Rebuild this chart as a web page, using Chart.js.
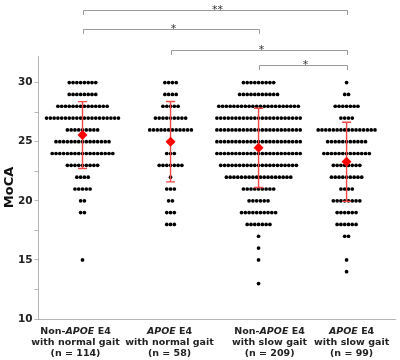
<!DOCTYPE html>
<html>
<head>
<meta charset="utf-8">
<script src="https://cdn.jsdelivr.net/npm/chart.js@4"></script>
<style>
  body { margin: 0; background: #fff; }
</style>
</head>
<body>
<canvas id="moca" width="400" height="360"></canvas>
<script>
// groups, in the order of the x axis
const categoryPrefix = ['Non-', '', 'Non-', ''];
const categoryGene = ['APOE', 'APOE', 'APOE', 'APOE'];
const categoryGait = ['with normal gait', 'with normal gait', 'with slow gait', 'with slow gait'];
const groupN = [114, 58, 209, 99];

// MoCA score levels and how many subjects sit at each level
const scoreLevels = [30, 29, 28, 27, 26, 25, 24, 23, 22, 21, 20, 19, 18, 17, 16, 15, 14, 13];
const countsNormalNonE4 = [8, 8, 14, 20, 9, 15, 17, 9, 4, 5, 2, 2, 0, 0, 0, 1, 0, 0];
const countsNormalE4 = [4, 4, 5, 9, 12, 2, 3, 7, 1, 3, 2, 3, 3, 0, 0, 0, 0, 0];
const countsSlowNonE4 = [9, 11, 22, 23, 23, 23, 23, 21, 18, 9, 6, 10, 7, 1, 1, 1, 0, 1];
const countsSlowE4 = [1, 2, 7, 4, 16, 11, 13, 8, 9, 4, 8, 6, 6, 2, 0, 1, 1, 0];
const groupCounts = [countsNormalNonE4, countsNormalE4, countsSlowNonE4, countsSlowE4];

// mean and SD per group
const meanScores = [25.56, 25.0, 24.48, 23.3];
const sdScores = [2.83, 3.4, 3.35, 3.35];

// y tick labels
const yTickLabels = [10, 15, 20, 25, 30];

// significance brackets (group numbers 1..4)
const bracketFrom = [1, 1, 2, 3];
const bracketTo = [4, 3, 4, 4];
const bracketText = ['**', '*', '*', '*'];

// layout / style constants
const DOT_STEP = 0.043;            // gap between dots in a row, x units
const BRACKET_Y = [9.5, 28.5, 50, 65];
const BRACKET_DROP = 4.5;
const LABEL_SHIFT = [-7, -1, 11, 5];
const LABEL_BASE = [333.5, 344.5, 356];
const FONT = "'DejaVu Sans', Verdana, sans-serif";

// build the swarm points, one row per score
const dotPoints = [];
groupCounts.forEach((counts, g) => {
  scoreLevels.forEach((score, k) => {
    const n = counts[k];
    for (let i = 0; i < n; i++) {
      dotPoints.push({ x: g + 1 + (i - (n - 1) / 2) * DOT_STEP, y: score });
    }
  });
});
const meanPoints = meanScores.map((m, g) => ({ x: g + 1, y: m }));

const errorBars = {
  id: 'errorBars',
  afterDatasetDraw(chart, args) {
    if (args.index !== 0) return;
    const { ctx, scales: { x, y } } = chart;
    ctx.save();
    ctx.strokeStyle = '#f24848';
    ctx.lineWidth = 1.4;
    meanScores.forEach((m, g) => {
      const px = x.getPixelForValue(g + 1);
      const top = y.getPixelForValue(m + sdScores[g]);
      const bot = y.getPixelForValue(m - sdScores[g]);
      ctx.beginPath();
      ctx.moveTo(px, top); ctx.lineTo(px, bot);
      ctx.moveTo(px - 4.5, top); ctx.lineTo(px + 4.5, top);
      ctx.moveTo(px - 4.5, bot); ctx.lineTo(px + 4.5, bot);
      ctx.stroke();
    });
    ctx.restore();
  }
};

const extras = {
  id: 'extras',
  afterDraw(chart) {
    const { ctx, scales: { x } } = chart;
    ctx.save();
    // brackets
    ctx.strokeStyle = '#9a9a9a';
    ctx.lineWidth = 1;
    ctx.fillStyle = '#333';
    ctx.font = '11px ' + FONT;
    ctx.textAlign = 'center';
    ctx.textBaseline = 'alphabetic';
    bracketFrom.forEach((a, i) => {
      const x1 = Math.round(x.getPixelForValue(a)) + 0.5;
      const x2 = Math.round(x.getPixelForValue(bracketTo[i])) + 0.5;
      const by = Math.round(BRACKET_Y[i]) + 0.5;
      ctx.beginPath();
      ctx.moveTo(x1, by + BRACKET_DROP); ctx.lineTo(x1, by);
      ctx.lineTo(x2, by); ctx.lineTo(x2, by + BRACKET_DROP);
      ctx.stroke();
      ctx.fillText(bracketText[i], (x1 + x2) / 2 + 2, by + 2.5);
    });

    // x labels with italic gene name
    ctx.fillStyle = '#222';
    ctx.textAlign = 'left';
    const fNorm = 'bold 9.5px ' + FONT;
    const fItal = 'italic bold 9.5px ' + FONT;
    categoryGait.forEach((gait, g) => {
      const cx = x.getPixelForValue(g + 1) + LABEL_SHIFT[g];
      const parts = [[categoryPrefix[g], fNorm], [categoryGene[g], fItal], [' E4', fNorm]];
      let w = 0;
      parts.forEach(p => { ctx.font = p[1]; w += ctx.measureText(p[0]).width; });
      let sx = cx - w / 2;
      parts.forEach(p => {
        ctx.font = p[1];
        ctx.fillText(p[0], sx, LABEL_BASE[0]);
        sx += ctx.measureText(p[0]).width;
      });
      ctx.font = fNorm;
      ctx.textAlign = 'center';
      ctx.fillText(gait, cx, LABEL_BASE[1]);
      ctx.fillText('(n = ' + groupN[g] + ')', cx, LABEL_BASE[2]);
      ctx.textAlign = 'left';
    });
    ctx.restore();
  }
};

new Chart(document.getElementById('moca'), {
  type: 'scatter',
  data: {
    datasets: [
      {
        data: dotPoints,
        order: 2,
        pointStyle: 'circle',
        pointRadius: 1.85,
        pointBorderWidth: 0,
        backgroundColor: '#000',
        borderColor: '#000'
      },
      {
        data: meanPoints,
        order: 1,
        pointStyle: 'rectRot',
        pointRadius: 5,
        pointBorderWidth: 0,
        backgroundColor: '#ff0000',
        borderColor: '#ff0000'
      }
    ]
  },
  options: {
    responsive: false,
    animation: false,
    devicePixelRatio: 1,
    layout: { padding: { top: 56, right: 3, left: 0, bottom: 0 } },
    plugins: { legend: { display: false }, tooltip: { enabled: false } },
    scales: {
      x: {
        type: 'linear',
        min: 0.5,
        max: 4.55,
        ticks: { display: false },
        grid: { display: false, drawTicks: false },
        border: { display: true, color: '#b5b5b5', width: 1 },
        afterFit(scale) { scale.height = 41; }
      },
      y: {
        min: 10,
        max: 32.25,
        ticks: {
          stepSize: 2.5,
          includeBounds: false,
          padding: 2,
          color: '#222',
          font: { family: FONT, size: 10.5, weight: 'bold' },
          callback: v => (yTickLabels.includes(v) ? v : '')
        },
        grid: { drawOnChartArea: false, drawTicks: true, tickLength: 4, color: '#b5b5b5' },
        border: { display: true, color: '#b5b5b5', width: 1 },
        title: {
          display: true,
          text: 'MoCA',
          color: '#111',
          font: { family: FONT, size: 13, weight: 'bold' },
          padding: { top: 2, bottom: 0 }
        },
        afterFit(scale) { scale.width = 38.5; }
      }
    }
  },
  plugins: [errorBars, extras]
});
</script>
</body>
</html>
